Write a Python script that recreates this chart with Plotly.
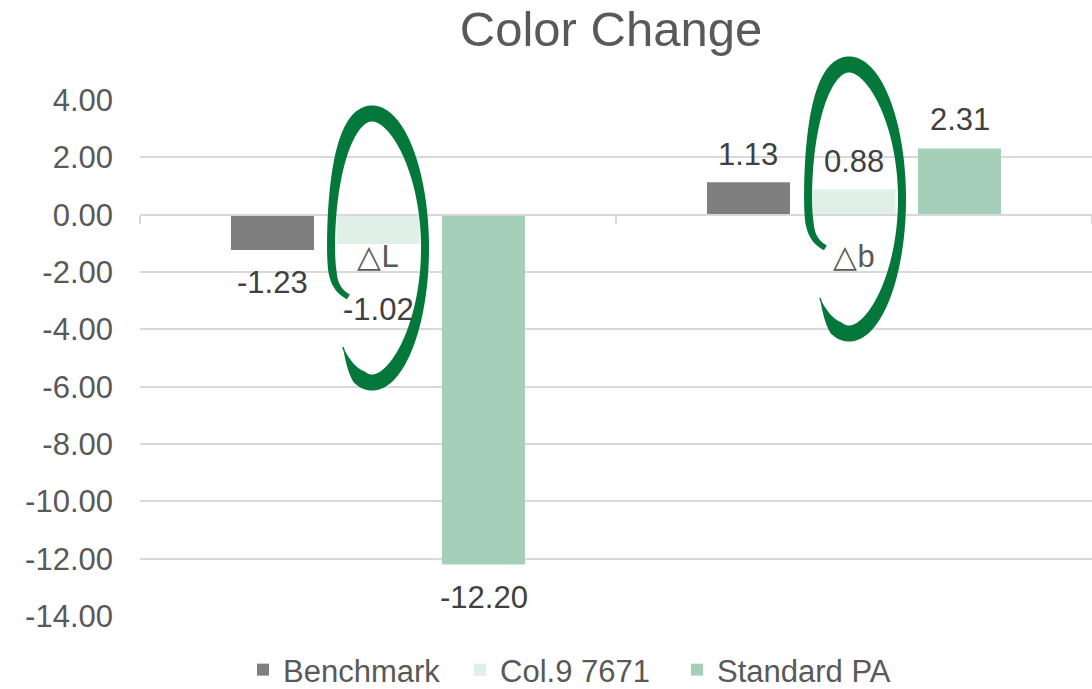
import numpy as np
import plotly.graph_objects as go

# ---- data ----
categories = ["△L", "△b"]
series_names = ["Benchmark", "Col.9 7671", "Standard PA"]
benchmark = [-1.23, 1.13]
col9_7671 = [-1.02, 0.88]
standard_pa = [-12.20, 2.31]
y_tick_values = [4, 2, 0, -2, -4, -6, -8, -10, -12, -14]
y_tick_labels = ["4.00", "2.00", "0.00", "-2.00", "-4.00", "-6.00",
                 "-8.00", "-10.00", "-12.00", "-14.00"]

series_values = [benchmark, col9_7671, standard_pa]

# ---- styling ----
W, H = 1092, 689
PLOT_L, PLOT_R, PLOT_T, PLOT_B = 140, 1092, 100, 616
Y_MIN, Y_MAX = -14, 4
BARGAP, BARGROUPGAP = 0.335, 0.213
colors = ["#7F7F7F", "#E0EFE7", "#A6CFB9"]
FONT = "Liberation Sans, Arial, sans-serif"
TEXT_GREY = "#595959"
LABEL_GREY = "#404040"
GRID = "#D9D9D9"
BRUSH_GREEN = "#04773A"

# vertical offset (px) of each value label from its bar end
label_yshift = {
    (0, 0): -33, (1, 0): -66, (2, 0): -33,
    (0, 1): 28, (1, 1): 28, (2, 1): 29,
}

fig = go.Figure()
for name, vals, col in zip(series_names, series_values, colors):
    fig.add_trace(go.Bar(x=categories, y=vals, name=name, marker_color=col,
                         marker_line_width=0, hoverinfo="skip"))

# value labels, offset horizontally to sit over their bar within the group
cat_px = (PLOT_R - PLOT_L) / len(categories)
slot_px = cat_px * (1 - BARGAP) / len(series_names)
annotations = []
for si, vals in enumerate(series_values):
    for ci, v in enumerate(vals):
        annotations.append(dict(
            x=categories[ci], y=v, xref="x", yref="y",
            text=f"{v:.2f}", showarrow=False,
            xshift=(si - 1) * slot_px, yshift=label_yshift[(si, ci)],
            font=dict(family=FONT, size=31, color=LABEL_GREY)))


# ---- hand-drawn brush loops around the middle bars ----
def to_paper(px, py):
    return (px - PLOT_L) / (PLOT_R - PLOT_L), (PLOT_B - py) / (PLOT_B - PLOT_T)


def brush_path(cx, cy, a=47.0, b=134.5):
    t_start = np.pi + 0.372
    t_end = -(np.pi - 0.828)
    t = np.linspace(t_start, t_end, 400)
    s = t_start - t
    x = cx + a * np.cos(t) - 6 * np.sin(t) ** 2 + 15 * np.exp(-s / 0.07)
    y = cy - b * np.sin(t)
    width = 8 + 8 * np.sin(t) ** 2
    taper = np.minimum(np.clip(0.6 + s / 0.5, 0, 1),
                       np.clip((t - t_end) / 0.45, 0.12, 1))
    width = width * taper
    dx, dy = np.gradient(x), np.gradient(y)
    norm = np.hypot(dx, dy)
    nx, ny = -dy / norm, dx / norm
    ox, oy = x + nx * width / 2, y + ny * width / 2
    ix, iy = x - nx * width / 2, y - ny * width / 2
    px = np.concatenate([ox, ix[::-1]])
    py = np.concatenate([oy, iy[::-1]])
    qx, qy = to_paper(px, py)
    pts = [f"{a_:.5f},{b_:.5f}" for a_, b_ in zip(qx, qy)]
    return "M" + " L".join(pts) + " Z"


shapes = [
    dict(type="path", xref="paper", yref="paper", path=brush_path(378, 248),
         fillcolor=BRUSH_GREEN, line=dict(width=0), layer="above"),
    dict(type="path", xref="paper", yref="paper", path=brush_path(855, 199),
         fillcolor=BRUSH_GREEN, line=dict(width=0), layer="above"),
]

zero_pos = (0 - Y_MIN) / (Y_MAX - Y_MIN)

fig.update_layout(
    width=W, height=H,
    margin=dict(l=PLOT_L, r=W - PLOT_R, t=PLOT_T, b=H - PLOT_B, pad=0,
                autoexpand=False),
    paper_bgcolor="white", plot_bgcolor="white",
    barmode="group", bargap=BARGAP, bargroupgap=BARGROUPGAP,
    font=dict(family=FONT, color=TEXT_GREY),
    title=dict(text="Color Change", x=611 / W, xref="container", xanchor="center",
               y=1 - 29 / H, yref="container", yanchor="middle",
               font=dict(family=FONT, size=49, color=TEXT_GREY)),
    xaxis=dict(type="category", anchor="free", position=zero_pos,
               showline=True, linecolor=GRID, linewidth=2,
               ticks="outside", ticklen=8, tickwidth=2, tickcolor=GRID,
               tickson="boundaries", showgrid=False, zeroline=False,
               tickfont=dict(family=FONT, size=31, color=TEXT_GREY),
               ticklabelstandoff=14, automargin=False),
    yaxis=dict(range=[Y_MIN, Y_MAX], tickvals=y_tick_values, ticktext=y_tick_labels,
               showgrid=True, gridcolor=GRID, gridwidth=2, zeroline=False,
               showline=False, ticks="", ticklabelstandoff=26,
               tickfont=dict(family=FONT, size=31, color=TEXT_GREY),
               automargin=False),
    legend=dict(orientation="h", x=243 / W, xref="container", xanchor="left",
                y=1 - 643 / H, yref="container", yanchor="top",
                entrywidth=172, entrywidthmode="pixels",
                font=dict(family=FONT, size=31, color=TEXT_GREY),
                bgcolor="rgba(0,0,0,0)"),
    annotations=annotations,
    shapes=shapes,
    hovermode=False,
)

fig.write_html("out.html", config={"displayModeBar": False})
